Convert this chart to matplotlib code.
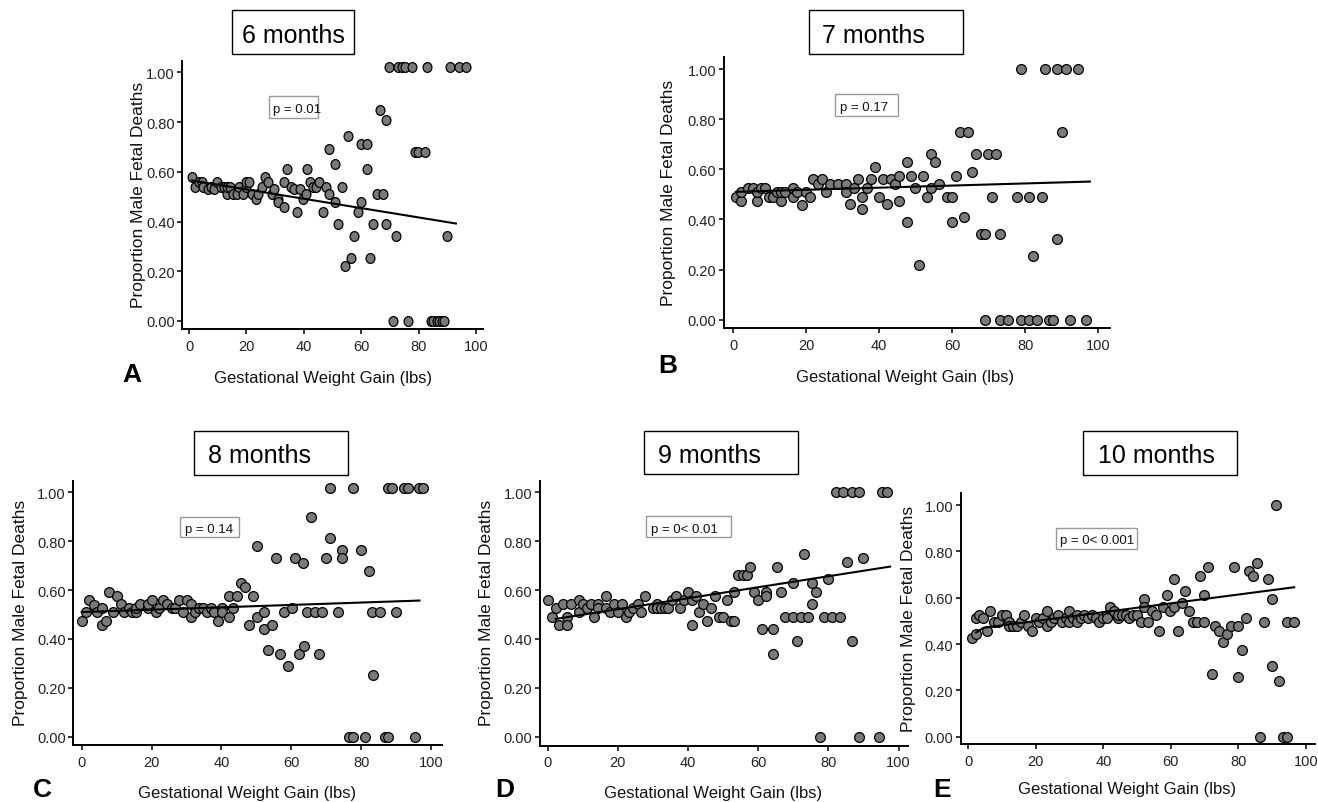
import matplotlib
matplotlib.use("Agg")
import matplotlib.pyplot as plt
from matplotlib.patches import Rectangle
from matplotlib.path import Path
from matplotlib.transforms import Affine2D
from matplotlib.ticker import FormatStrFormatter

plt.rcParams['font.family'] = ['Liberation Sans', 'DejaVu Sans']

# ---- data: gestational weight gain (lbs) vs proportion male ----
gwg_6m = [0.9, 2.1, 3.5, 4.4, 5.0, 6.5, 7.7, 8.8, 9.9, 11.0,
          12.2, 13.1, 13.1, 14.3, 15.4, 16.6, 17.5, 18.7, 19.7, 19.9,
          21.0, 22.1, 23.2, 24.2, 25.4, 26.5, 27.6, 28.8, 29.7, 30.9,
          30.9, 33.1, 33.1, 34.3, 35.4, 36.5, 37.6, 38.7, 39.8, 40.8,
          41.0, 42.2, 43.3, 44.4, 45.4, 46.6, 47.7, 48.7, 48.7, 50.9,
          50.9, 52.0, 53.2, 54.4, 55.4, 56.4, 57.6, 58.8, 59.8, 59.8,
          62.1, 62.1, 63.1, 64.2, 65.4, 66.6, 67.7, 68.6, 68.6, 69.8,
          71.0, 72.1, 72.9, 74.1, 75.3, 76.4, 77.6, 78.7, 79.9, 82.2,
          83.0, 84.2, 85.1, 86.3, 87.2, 88.2, 89.0, 89.8, 90.9, 94.2,
          96.5]
male_6m = [0.58, 0.54, 0.56, 0.56, 0.54, 0.53, 0.54, 0.53, 0.56, 0.54,
           0.54, 0.51, 0.54, 0.54, 0.51, 0.51, 0.54, 0.51, 0.54, 0.56,
           0.56, 0.51, 0.49, 0.51, 0.54, 0.58, 0.56, 0.51, 0.53, 0.49,
           0.48, 0.46, 0.56, 0.61, 0.54, 0.53, 0.44, 0.53, 0.49, 0.51,
           0.61, 0.56, 0.54, 0.54, 0.56, 0.44, 0.54, 0.51, 0.69, 0.63,
           0.48, 0.39, 0.54, 0.22, 0.745, 0.255, 0.34, 0.44, 0.48, 0.71,
           0.71, 0.61, 0.255, 0.39, 0.51, 0.85, 0.51, 0.81, 0.39, 1.02,
           0.0, 0.34, 1.02, 1.02, 1.02, 0.0, 1.02, 0.68, 0.68, 0.68,
           1.02, 0.0, 0.0, 0.0, 0.0, 0.0, 0.0, 0.34, 1.02, 1.02,
           1.02]
fit_x_6m = [0.9, 93.0]
fit_y_6m = [0.565, 0.392]

gwg_7m = [0.7, 2.0, 2.0, 4.1, 5.3, 6.4, 6.4, 7.6, 8.7, 9.8,
          11.0, 12.1, 13.2, 13.2, 14.2, 16.4, 16.4, 17.5, 18.7, 19.8,
          20.9, 21.9, 23.1, 24.2, 25.3, 26.5, 28.7, 30.9, 30.9, 32.0,
          33.2, 34.2, 35.3, 35.3, 36.5, 37.6, 38.7, 39.8, 40.9, 42.0,
          43.1, 44.3, 45.4, 45.4, 47.5, 47.5, 48.7, 49.8, 51.0, 52.1,
          53.2, 54.2, 54.2, 55.3, 56.4, 58.6, 59.8, 59.8, 60.9, 62.1,
          63.2, 64.4, 65.4, 66.5, 67.8, 69.0, 69.0, 69.9, 71.0, 72.1,
          73.1, 73.1, 75.3, 77.6, 78.8, 78.8, 81.0, 81.0, 82.2, 83.1,
          84.5, 85.5, 86.6, 87.7, 88.6, 88.6, 90.0, 91.1, 92.2, 94.5,
          96.6]
male_7m = [0.49, 0.475, 0.51, 0.525, 0.525, 0.475, 0.51, 0.525, 0.525, 0.49,
           0.49, 0.51, 0.475, 0.51, 0.51, 0.525, 0.49, 0.51, 0.457, 0.51,
           0.49, 0.56, 0.54, 0.56, 0.51, 0.54, 0.54, 0.54, 0.51, 0.46,
           0.525, 0.56, 0.49, 0.44, 0.525, 0.56, 0.61, 0.49, 0.56, 0.46,
           0.56, 0.54, 0.575, 0.475, 0.63, 0.39, 0.575, 0.525, 0.22, 0.575,
           0.49, 0.66, 0.525, 0.63, 0.54, 0.49, 0.49, 0.39, 0.575, 0.75,
           0.41, 0.75, 0.59, 0.66, 0.34, 0.34, 0.0, 0.66, 0.49, 0.66,
           0.34, 0.0, 0.0, 0.49, 1.0, 0.0, 0.49, 0.0, 0.255, 0.0,
           0.49, 1.0, 0.0, 0.0, 1.0, 0.32, 0.75, 1.0, 0.0, 1.0,
           0.0]
fit_x_7m = [0.7, 97.7]
fit_y_7m = [0.51, 0.551]

gwg_8m = [0.0, 1.1, 2.2, 3.5, 4.5, 5.7, 5.7, 6.9, 7.8, 9.1,
          10.0, 11.2, 12.2, 13.4, 14.5, 15.6, 15.6, 16.7, 18.9, 18.9,
          20.0, 21.2, 22.2, 23.4, 24.5, 25.8, 26.7, 27.9, 28.9, 30.1,
          31.2, 31.2, 32.4, 33.6, 34.6, 35.8, 36.9, 38.0, 39.1, 40.1,
          40.3, 42.3, 42.3, 43.4, 44.6, 45.5, 46.8, 47.9, 49.0, 50.1,
          50.1, 52.3, 52.3, 53.4, 54.6, 55.6, 56.8, 57.9, 59.0, 60.1,
          61.1, 62.3, 63.3, 63.5, 64.4, 65.6, 66.8, 67.8, 68.9, 70.0,
          71.1, 71.1, 73.3, 74.4, 74.4, 76.6, 77.8, 77.8, 80.0, 81.1,
          82.3, 83.2, 83.5, 85.4, 86.8, 87.8, 87.8, 88.9, 90.0, 92.3,
          93.3, 95.4, 96.6, 97.8]
male_8m = [0.475, 0.51, 0.56, 0.54, 0.51, 0.527, 0.457, 0.475, 0.593, 0.51,
           0.577, 0.543, 0.51, 0.527, 0.51, 0.51, 0.527, 0.543, 0.527, 0.543,
           0.56, 0.51, 0.527, 0.56, 0.543, 0.527, 0.527, 0.56, 0.51, 0.56,
           0.543, 0.49, 0.51, 0.527, 0.527, 0.51, 0.527, 0.51, 0.475, 0.527,
           0.51, 0.577, 0.49, 0.527, 0.577, 0.628, 0.611, 0.457, 0.577, 0.779,
           0.49, 0.51, 0.44, 0.356, 0.457, 0.73, 0.338, 0.51, 0.288, 0.527,
           0.73, 0.338, 0.711, 0.372, 0.51, 0.898, 0.51, 0.338, 0.51, 0.73,
           1.018, 0.813, 0.51, 0.764, 0.73, 0.0, 0.0, 1.018, 0.764, 0.0,
           0.68, 0.51, 0.252, 0.51, 0.0, 0.0, 1.018, 1.018, 0.51, 1.018,
           1.018, 0.0, 1.018, 1.018]
fit_x_8m = [0.0, 96.7]
fit_y_8m = [0.51, 0.557]

gwg_9m = [0.0, 1.1, 2.3, 3.3, 4.5, 5.6, 5.6, 6.7, 8.9, 8.9,
          10.2, 11.1, 12.3, 13.3, 14.4, 14.4, 16.6, 16.6, 17.8, 18.9,
          20.0, 21.1, 22.2, 23.3, 24.4, 25.6, 26.6, 27.7, 29.9, 31.1,
          31.1, 32.2, 33.3, 34.4, 35.5, 36.6, 37.7, 38.9, 39.9, 41.0,
          41.0, 42.2, 43.2, 44.4, 45.5, 46.6, 47.7, 48.8, 49.9, 51.0,
          52.2, 53.2, 53.2, 54.3, 55.6, 56.7, 57.7, 58.8, 59.9, 61.0,
          62.1, 62.1, 64.3, 64.3, 65.5, 66.5, 67.6, 69.8, 69.8, 71.0,
          72.1, 73.2, 74.3, 75.4, 75.4, 76.5, 77.6, 78.8, 80.0, 81.0,
          82.2, 83.3, 84.3, 85.4, 86.7, 86.7, 88.7, 88.7, 90.0, 94.3,
          95.2, 96.6]
male_9m = [0.56, 0.49, 0.527, 0.458, 0.543, 0.49, 0.458, 0.543, 0.56, 0.51,
           0.543, 0.527, 0.543, 0.49, 0.543, 0.527, 0.577, 0.527, 0.51, 0.543,
           0.51, 0.543, 0.49, 0.51, 0.527, 0.543, 0.51, 0.577, 0.527, 0.543,
           0.527, 0.527, 0.527, 0.527, 0.56, 0.577, 0.527, 0.56, 0.593, 0.56,
           0.458, 0.577, 0.51, 0.543, 0.475, 0.527, 0.577, 0.49, 0.49, 0.56,
           0.475, 0.475, 0.593, 0.662, 0.662, 0.662, 0.696, 0.593, 0.56, 0.44,
           0.593, 0.577, 0.44, 0.338, 0.696, 0.593, 0.49, 0.49, 0.628, 0.39,
           0.49, 0.748, 0.49, 0.628, 0.543, 0.593, 0.0, 0.49, 0.645, 0.49,
           1.0, 0.49, 1.0, 0.714, 1.0, 0.39, 1.0, 0.0, 0.73, 0.0,
           1.0, 1.0]
fit_x_9m = [2.3, 97.6]
fit_y_9m = [0.482, 0.696]

gwg_10m = [1.0, 2.3, 2.2, 3.3, 4.4, 5.4, 6.4, 7.6, 8.9, 9.9,
           11.1, 12.0, 12.0, 13.3, 14.3, 15.5, 16.6, 17.8, 18.8, 19.9,
           21.0, 22.2, 23.2, 23.2, 24.4, 25.5, 26.7, 27.6, 28.8, 29.8,
           29.8, 31.1, 32.1, 32.1, 33.3, 34.4, 35.5, 36.5, 37.7, 38.8,
           39.8, 41.0, 41.0, 42.0, 43.1, 44.2, 44.2, 45.4, 46.6, 47.6,
           48.9, 49.9, 51.0, 52.1, 52.1, 53.1, 54.3, 55.5, 56.6, 57.6,
           58.7, 59.7, 60.9, 60.9, 62.0, 63.2, 64.2, 65.4, 66.4, 67.6,
           68.6, 69.8, 69.8, 70.9, 72.1, 73.0, 74.3, 75.3, 76.5, 77.7,
           78.8, 79.8, 79.8, 81.0, 82.1, 83.1, 84.2, 85.4, 86.4, 87.6,
           88.6, 89.8, 89.8, 91.0, 92.0, 93.1, 94.3, 94.3, 96.5]
male_10m = [0.424, 0.443, 0.511, 0.527, 0.511, 0.458, 0.541, 0.494, 0.494, 0.527,
            0.527, 0.494, 0.476, 0.476, 0.476, 0.494, 0.527, 0.476, 0.458, 0.511,
            0.494, 0.511, 0.541, 0.476, 0.494, 0.511, 0.527, 0.494, 0.511, 0.541,
            0.494, 0.511, 0.527, 0.494, 0.511, 0.527, 0.511, 0.527, 0.511, 0.494,
            0.511, 0.527, 0.511, 0.558, 0.541, 0.511, 0.527, 0.527, 0.527, 0.511,
            0.527, 0.527, 0.494, 0.594, 0.558, 0.494, 0.541, 0.527, 0.458, 0.558,
            0.612, 0.541, 0.681, 0.558, 0.458, 0.576, 0.627, 0.541, 0.494, 0.494,
            0.695, 0.612, 0.494, 0.731, 0.27, 0.476, 0.458, 0.41, 0.443, 0.476,
            0.731, 0.476, 0.256, 0.376, 0.511, 0.714, 0.695, 0.748, 0.0, 0.494,
            0.681, 0.594, 0.306, 1.0, 0.239, 0.0, 0.0, 0.494, 0.494]
fit_x_10m = [2.3, 4.5, 96.5]
fit_y_10m = [0.45, 0.47, 0.645]

titles = ["6 months", "7 months", "8 months", "9 months", "10 months"]
p_labels = ["p = 0.01", "p = 0.17", "p = 0.14", "p = 0< 0.01", "p = 0< 0.001"]
letters = ["A", "B", "C", "D", "E"]
x_ticks = [0, 20, 40, 60, 80, 100]
y_ticks = [0.0, 0.2, 0.4, 0.6, 0.8, 1.0]

series = [(gwg_6m, male_6m, fit_x_6m, fit_y_6m),
          (gwg_7m, male_7m, fit_x_7m, fit_y_7m),
          (gwg_8m, male_8m, fit_x_8m, fit_y_8m),
          (gwg_9m, male_9m, fit_x_9m, fit_y_9m),
          (gwg_10m, male_10m, fit_x_10m, fit_y_10m)]

# ---- layout in pixels of the 1318x803 canvas ----
W, H = 1318, 803
layout = [
    dict(spine=(182.3, 483, 61.7, 330), xt=(189, 476), yt=(322, 73.3),
         tbox=(232, 10.7, 354, 55), txy=(242, 42.7), pbox=(269, 97, 318, 119),
         pxy=(273, 113.3), lxy=(122, 382), xl=(323.5, 382.7), yl=(138.5, 195)),
    dict(spine=(724, 1110, 58, 329), xt=(733.3, 1098.3), yt=(320.7, 70),
         tbox=(809, 10.7, 963, 55), txy=(821.7, 42.7), pbox=(835, 95, 898, 117),
         pxy=(840, 111), lxy=(658, 373), xl=(905, 381.7), yl=(669, 192.5)),
    dict(spine=(73.3, 441.7, 481.7, 746), xt=(81.7, 431), yt=(737.7, 493.3),
         tbox=(194, 431.7, 348, 475.7), txy=(208, 462.7), pbox=(180, 517.7, 239, 538.3),
         pxy=(185, 533.3), lxy=(33, 797.5), xl=(246.7, 797.7), yl=(20.7, 613.3)),
    dict(spine=(540, 908, 481.7, 746.7), xt=(547.7, 898.5), yt=(737.7, 493.3),
         tbox=(644, 431.7, 798, 475), txy=(657.7, 462.7), pbox=(645.7, 517.3, 731, 538.3),
         pxy=(650.7, 533.3), lxy=(495, 797.5), xl=(713, 797.7), yl=(487, 613)),
    dict(spine=(960.7, 1315, 494, 745), xt=(968.3, 1306), yt=(737.7, 506),
         tbox=(1083.3, 432.3, 1236.7, 475.7), txy=(1098, 462.7), pbox=(1055.7, 529, 1136.7, 550),
         pxy=(1060, 544.3), lxy=(933, 797.5), xl=(1127.5, 794.3), yl=(908.8, 619)),
]

def fx(px):
    return px / W

def fy(py):
    return 1 - py / H

# panel A is squeezed a little horizontally in the original
squeezed = Path.unit_circle().transformed(Affine2D().scale(0.9, 1.0))

fig = plt.figure(figsize=(W / 100, H / 100), dpi=100)

for i, ((xs, ys, lx, ly), lay) in enumerate(zip(series, layout)):
    left, right, top, bottom = lay["spine"]
    ax = fig.add_axes([fx(left), fy(bottom), (right - left) / W, (bottom - top) / H])

    x0, x100 = lay["xt"]
    sx = (x100 - x0) / 100.0
    ax.set_xlim((left - x0) / sx, (right - x0) / sx)
    y0, y1 = lay["yt"]
    sy = y0 - y1
    ax.set_ylim((y0 - bottom) / sy, (y0 - top) / sy)

    marker = squeezed if i == 0 else "o"
    ax.scatter(xs, ys, s=50, marker=marker, c="#7a7a7a", edgecolors="black",
               linewidths=0.9, zorder=3, clip_on=False)
    ax.plot(lx, ly, color="black", lw=1.5, zorder=4)

    for side in ("top", "right"):
        ax.spines[side].set_visible(False)
    for side in ("left", "bottom"):
        ax.spines[side].set_linewidth(1.4)
    ax.set_xticks(x_ticks)
    ax.set_yticks(y_ticks)
    ax.yaxis.set_major_formatter(FormatStrFormatter("%.2f"))
    ax.tick_params(direction="out", length=3.5, width=1.1, labelsize=10.5,
                   labelcolor="#222222")
    ax.tick_params(axis="x", pad=3.5)
    ax.tick_params(axis="y", pad=2)

    # title box
    bx0, by0, bx1, by1 = lay["tbox"]
    fig.patches.append(Rectangle((fx(bx0), fy(by1)), (bx1 - bx0) / W, (by1 - by0) / H,
                                 transform=fig.transFigure, fill=False,
                                 edgecolor="black", lw=1.0))
    fig.text(fx(lay["txy"][0]), fy(lay["txy"][1]), titles[i], fontsize=18,
             ha="left", va="baseline")

    # p-value box
    px0, py0, px1, py1 = lay["pbox"]
    fig.patches.append(Rectangle((fx(px0), fy(py1)), (px1 - px0) / W, (py1 - py0) / H,
                                 transform=fig.transFigure, fill=False,
                                 edgecolor="#9a9a9a", lw=1.0))
    fig.text(fx(lay["pxy"][0]), fy(lay["pxy"][1]), p_labels[i], fontsize=9.5,
             ha="left", va="baseline", color="#111111")

    # panel letter and axis labels
    fig.text(fx(lay["lxy"][0]), fy(lay["lxy"][1]), letters[i], fontsize=19,
             fontweight="bold", ha="left", va="baseline")
    fig.text(fx(lay["xl"][0]), fy(lay["xl"][1]), "Gestational Weight Gain (lbs)",
             fontsize=12, ha="center", va="baseline", color="#111111")
    fig.text(fx(lay["yl"][0]), fy(lay["yl"][1]), "Proportion Male Fetal Deaths",
             fontsize=12.5, rotation=90, ha="center", va="center", color="#111111")

fig.savefig("out.png", dpi=100)
